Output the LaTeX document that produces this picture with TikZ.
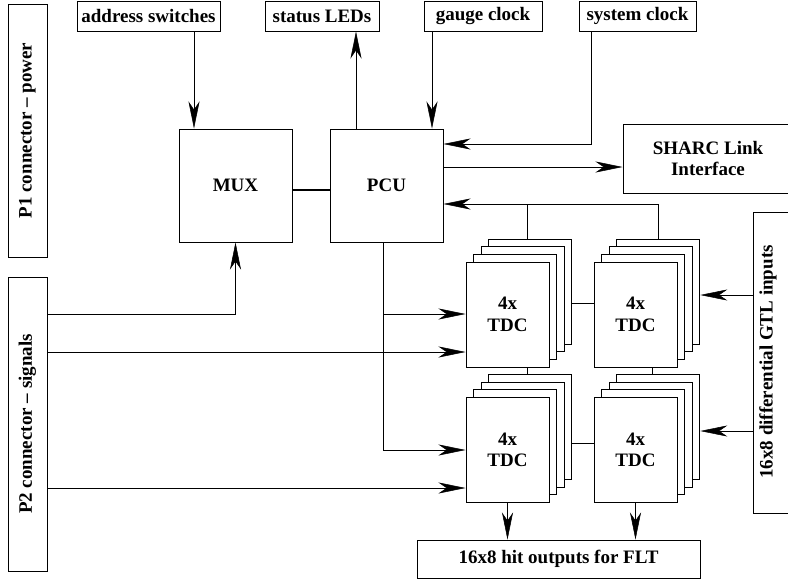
\documentclass[tikz,border=0pt]{standalone}
\usepackage{fontspec}
\setmainfont{Liberation Serif}
\usetikzlibrary{arrows.meta}
\newcommand\blockfont{\fontsize{19}{21.5}\selectfont\bfseries}

\begin{document}
\begin{tikzpicture}[x=1pt,y=-1pt,line width=1pt,
  box/.style={draw,fill=white,inner sep=0pt,align=center,font=\blockfont},
  tdc/.style={box,minimum width=83pt,minimum height=105pt},
  arr/.style={-{Stealth[length=27pt,width=11pt,inset=8pt,line width=0.5pt]}},
  bus/.style={line width=2.4pt}]
  \path[use as bounding box,clip] (0,0) rectangle (788,581);
  \node[box,rotate=90,minimum width=253pt,minimum height=39pt] (p1) at (27.5,130.5) {P1 connector -- power};
  \node[box,rotate=90,minimum width=294pt,minimum height=39pt] (p2) at (27.5,424) {P2 connector -- signals};
  \node[box,minimum width=143pt,minimum height=30pt] (addr) at (148.5,16) {address switches};
  \node[box,minimum width=114pt,minimum height=30pt] (leds) at (322,16) {status LEDs};
  \node[box,minimum width=118pt,minimum height=30pt] (gauge) at (483,16) {gauge clock};
  \node[box,minimum width=117pt,minimum height=30pt] (sysclk) at (637.5,16) {system clock};
  \node[box,minimum width=113pt,minimum height=113pt] (mux) at (235.5,185.5) {MUX};
  \node[box,minimum width=113pt,minimum height=113pt] (pcu) at (386.5,185.5) {PCU};
  \node[box,minimum width=170pt,minimum height=69pt] (sharc) at (708,158.5) {SHARC Link\\Interface};
  \node[box,minimum width=60pt,minimum height=301pt] (gtl) at (783,362.5) {};
  \node[rotate=90,font=\blockfont] (gtltext) at (768,362) {16x8 differential GTL inputs};
  \node[box,minimum width=283pt,minimum height=38pt] (out) at (558.5,559) {16x8 hit outputs for FLT};
  \foreach \s/\cx/\cy in {A/507.5/314.5,B/635.5/314.5,C/507.5/450,D/635.5/450}{
    \foreach \k in {3,2,1}
      \node[tdc] (tdc\s\k) at (\cx+7.6*\k,\cy-7.6*\k) {};
    \node[tdc] (tdc\s) at (\cx,\cy) {4x\\TDC};
  }
  \coordinate (xaddr) at (194,0);
  \coordinate (xled) at (356,0);
  \coordinate (xgauge) at (432,0);
  \coordinate (xsys) at (591,0);
  \coordinate (xpcu) at (383,0);
  \coordinate (xa) at (527,0);
  \coordinate (xb) at (652,0);
  \coordinate (ysys) at (0,144);
  \coordinate (ysharc) at (0,167);
  \coordinate (ybus) at (0,190);
  \coordinate (yret) at (0,204);
  \coordinate (yin) at (0,314);
  \coordinate (yp2a) at (0,352);
  \coordinate (yp2c) at (0,488);
  \coordinate (yab) at (0,303);
  \coordinate (ycd) at (0,443);
  \coordinate (ygtla) at (0,295);
  \coordinate (ygtlc) at (0,431);
  \draw[arr] (addr.south -| xaddr) -- (mux.north -| xaddr);
  \draw[arr] (pcu.north -| xled) -- (leds.south -| xled);
  \draw[arr] (gauge.south -| xgauge) -- (pcu.north -| xgauge);
  \draw[arr] (sysclk.south -| xsys) |- (pcu.east |- ysys);
  \draw[arr] (pcu.east |- ysharc) -- (sharc.west |- ysharc);
  \draw[bus] (mux.east |- ybus) -- (pcu.west |- ybus);
  \draw[arr] (tdcB3.north) |- (pcu.east |- yret);
  \draw (tdcA3.north -| xa) -- (xa |- yret);
  \draw[arr] (p2.south |- yin) -| (mux.south);
  \draw[arr] (pcu.south -| xpcu) |- (tdcC.west);
  \draw[arr] (xpcu |- yin) -- (tdcA.west |- yin);
  \draw[arr] (p2.south |- yp2a) -- (tdcA.west |- yp2a);
  \draw[arr] (p2.south |- yp2c) -- (tdcC.west |- yp2c);
  \draw (tdcA3.east |- yab) -- (tdcB.west |- yab);
  \draw (tdcC3.east |- ycd) -- (tdcD.west |- ycd);
  \draw (tdcA.south -| xa) -- (tdcC3.north -| xa);
  \draw (tdcB.south -| xb) -- (tdcD3.north -| xb);
  \draw[arr] (gtl.west |- ygtla) -- (tdcB3.east |- ygtla);
  \draw[arr] (gtl.west |- ygtlc) -- (tdcD3.east |- ygtlc);
  \draw[arr] (tdcC.south) -- (out.north -| tdcC.south);
  \draw[arr] (tdcD.south) -- (out.north -| tdcD.south);
\end{tikzpicture}
\end{document}
